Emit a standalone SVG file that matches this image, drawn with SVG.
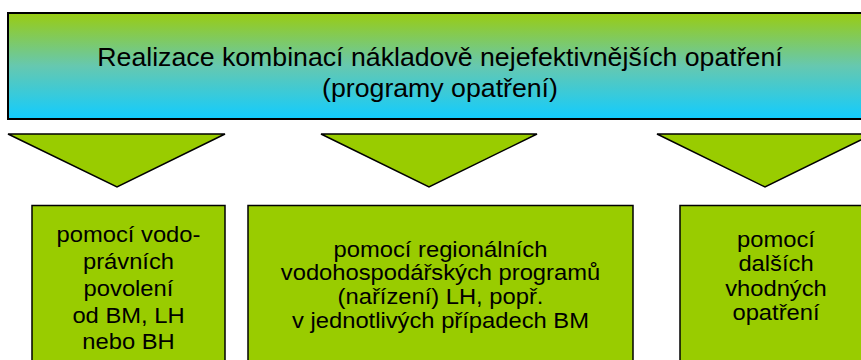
<svg xmlns="http://www.w3.org/2000/svg" width="861" height="360" viewBox="0 0 861 360">
<defs>
<linearGradient id="g" x1="0" y1="0" x2="0" y2="1">
<stop offset="0" stop-color="#99CC11"/>
<stop offset="0.5" stop-color="#66C8B0"/>
<stop offset="1" stop-color="#11CCFF"/>
</linearGradient>
</defs>
<style>
.t{font-family:"Liberation Sans",Arial,sans-serif;fill:#000;text-anchor:middle}
.top{font-size:26.7px}
.b{font-size:22px}
.box{fill:#99CC00;stroke:#000;stroke-width:1.5}
.tri{fill:#99CC00;stroke:#000;stroke-width:1.5;stroke-linejoin:miter}
</style>
<g id="top">
<rect x="8" y="13" width="864" height="106" fill="url(#g)" stroke="#000" stroke-width="2"/>
<text class="t top" x="440" y="66">Realizace kombinací nákladově nejefektivnějších opatření</text>
<text class="t top" x="440" y="97">(programy opatření)</text>
</g>
<g id="connectors">
<polygon class="tri" points="8,134 225,134 117,187"/>
<polygon class="tri" points="321,134 537,134 429,187"/>
<polygon class="tri" points="657,134 873,134 765,187"/>
</g>
<g id="n1">
<rect class="box" x="32" y="205.5" width="193" height="170"/>
<g transform="matrix(1.08,0,0,1,-10.28,0)">
<text class="t b" x="128.5" y="242">pomocí vodo-</text>
<text class="t b" x="128.5" y="269">právních</text>
<text class="t b" x="128.5" y="296">povolení</text>
<text class="t b" x="128.5" y="323">od BM, LH</text>
<text class="t b" x="128.5" y="349.5">nebo BH</text>
</g>
</g>
<g id="n2">
<rect class="box" x="248" y="205.5" width="385" height="170"/>
<g transform="matrix(1.08,0,0,1,-35.24,0)">
<text class="t b" x="440.5" y="257">pomocí regionálních</text>
<text class="t b" x="440.5" y="280.5">vodohospodářských programů</text>
<text class="t b" x="440.5" y="304">(nařízení) LH, popř.</text>
<text class="t b" x="440.5" y="328">v jednotlivých případech BM</text>
</g>
</g>
<g id="n3">
<rect class="box" x="680" y="205.5" width="192" height="170"/>
<g transform="matrix(1.08,0,0,1,-62.08,0)">
<text class="t b" x="776" y="247">pomocí</text>
<text class="t b" x="776" y="271.5">dalších</text>
<text class="t b" x="776" y="296">vhodných</text>
<text class="t b" x="776" y="320.5">opatření</text>
</g>
</g>
</svg>
